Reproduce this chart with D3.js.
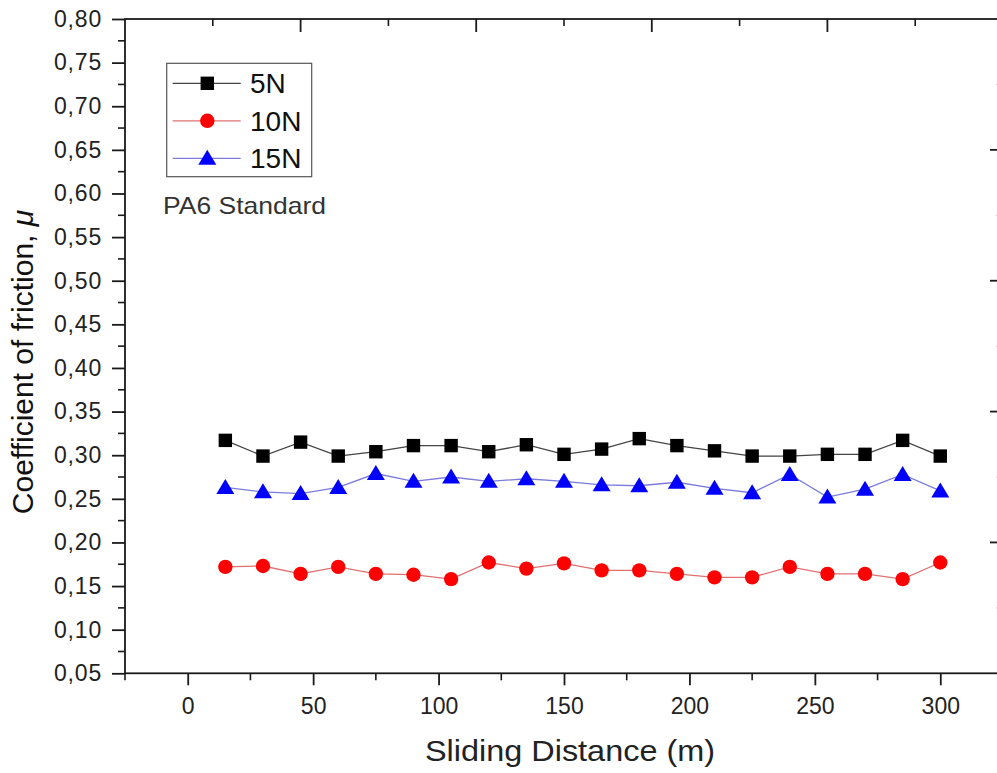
<!DOCTYPE html>
<html><head><meta charset="utf-8">
<script src="https://cdn.jsdelivr.net/npm/d3@7"></script>
<style>html,body{margin:0;padding:0;background:#fff;overflow:hidden}</style>
</head><body>
<svg id="c" width="997" height="773"></svg>
<script>
const distances = [15,30,45,60,75,90,105,120,135,150,165,180,195,210,225,240,255,270,285,300];
const cof5N  = [0.317,0.299,0.315,0.299,0.304,0.311,0.311,0.304,0.312,0.301,0.307,0.319,0.311,0.305,0.299,0.299,0.301,0.301,0.317,0.299];
const cof10N = [0.172,0.173,0.164,0.172,0.164,0.163,0.158,0.177,0.170,0.176,0.168,0.168,0.164,0.160,0.160,0.172,0.164,0.164,0.158,0.177];
const cof15N = [0.263,0.258,0.256,0.263,0.279,0.270,0.275,0.270,0.273,0.270,0.266,0.265,0.269,0.262,0.257,0.278,0.252,0.261,0.278,0.259];
const seriesNames = ["5N","10N","15N"];
const xTicks = [0,50,100,150,200,250,300];
const yTicks = [0.05,0.10,0.15,0.20,0.25,0.30,0.35,0.40,0.45,0.50,0.55,0.60,0.65,0.70,0.75,0.80];

const svg = d3.select("#c");
const L=125, R=1003, T=19, B=673.3;
const x = d3.scaleLinear().domain([-25,325]).range([L,R]);
const y = d3.scaleLinear().domain([0.05,0.80]).range([B,T]);
const xTop = d3.scaleLinear().domain([0,5]).range([L,R]);
const yRight = d3.scaleLinear().domain([0,5]).range([B,T]);
const font = "'Liberation Sans', Arial, sans-serif";
const axisColor = "#1a1a1a";

// frame
svg.append("rect").attr("x",L).attr("y",T).attr("width",R-L).attr("height",B-T)
  .attr("fill","none").attr("stroke",axisColor).attr("stroke-width",1.8);

// bottom axis (outward ticks)
const gB = svg.append("g").attr("transform",`translate(0,${B})`)
  .call(d3.axisBottom(x).tickValues(xTicks).tickSize(12).tickPadding(12).tickFormat(d3.format("d")));
gB.select(".domain").remove();
gB.selectAll(".tick line").attr("stroke",axisColor).attr("stroke-width",1.8);
gB.selectAll(".tick text").attr("font-family",font).attr("font-size",23).attr("fill","#222");
const xMinor = d3.range(-25,326,25).filter(v=>v%50!==0);
svg.append("g").selectAll("line").data(xMinor).join("line")
  .attr("x1",d=>x(d)).attr("x2",d=>x(d)).attr("y1",B).attr("y2",B+7)
  .attr("stroke",axisColor).attr("stroke-width",1.6);

// left axis (outward ticks)
const gL = svg.append("g").attr("transform",`translate(${L},0)`)
  .call(d3.axisLeft(y).tickValues(yTicks).tickSize(13).tickPadding(10).tickFormat(d=>d3.format(".2f")(d).replace(".",",")));
gL.select(".domain").remove();
gL.selectAll(".tick line").attr("stroke",axisColor).attr("stroke-width",1.8);
gL.selectAll(".tick text").attr("font-family",font).attr("font-size",23).attr("fill","#222").attr("letter-spacing",0.8);
const yMinor = yTicks.slice(0,-1).map(v=>v+0.025);
svg.append("g").selectAll("line").data(yMinor).join("line")
  .attr("x1",L-7).attr("x2",L).attr("y1",d=>y(d)).attr("y2",d=>y(d))
  .attr("stroke",axisColor).attr("stroke-width",1.6);

// top axis (inward ticks)
const topMaj=[1,2,3,4], topMin=[0.5,1.5,2.5,3.5,4.5];
svg.append("g").selectAll("line").data(topMaj).join("line")
  .attr("x1",d=>xTop(d)).attr("x2",d=>xTop(d)).attr("y1",T).attr("y2",T+13)
  .attr("stroke",axisColor).attr("stroke-width",1.8);
svg.append("g").selectAll("line").data(topMin).join("line")
  .attr("x1",d=>xTop(d)).attr("x2",d=>xTop(d)).attr("y1",T).attr("y2",T+7)
  .attr("stroke",axisColor).attr("stroke-width",1.6);
// right axis (inward ticks)
svg.append("g").selectAll("line").data([1,2,3,4]).join("line")
  .attr("x1",R-13).attr("x2",R).attr("y1",d=>yRight(d)).attr("y2",d=>yRight(d))
  .attr("stroke",axisColor).attr("stroke-width",1.8);
svg.append("g").selectAll("line").data(topMin).join("line")
  .attr("x1",R-7).attr("x2",R).attr("y1",d=>yRight(d)).attr("y2",d=>yRight(d))
  .attr("stroke","#ccc").attr("stroke-width",1.2);

// series
const series = [
  {name:seriesNames[0], vals:cof5N, line:"#444", fill:"#000", shape:"square"},
  {name:seriesNames[1], vals:cof10N, line:"#e07070", fill:"#ff0000", shape:"circle"},
  {name:seriesNames[2], vals:cof15N, line:"#7b7bdc", fill:"#0000ff", shape:"triangle"}
];
function marker(g, shape, fill){
  if(shape==="square") g.append("rect").attr("x",-6.7).attr("y",-6.7).attr("width",13.4).attr("height",13.4).attr("fill",fill);
  else if(shape==="circle") g.append("circle").attr("r",7.2).attr("fill",fill);
  else g.append("path").attr("d","M0,-8.5L9,6.5L-9,6.5Z").attr("fill",fill);
}
const line = d3.line().x(d=>x(d[0])).y(d=>y(d[1]));
series.forEach(s=>{
  const pts = distances.map((d,i)=>[d,s.vals[i]]);
  svg.append("path").datum(pts).attr("d",line).attr("fill","none").attr("stroke",s.line).attr("stroke-width",1.3);
  svg.append("g").selectAll("g").data(pts).join("g")
    .attr("transform",d=>`translate(${x(d[0])},${y(d[1])})`)
    .each(function(){ marker(d3.select(this), s.shape, s.fill); });
});

// legend
svg.append("rect").attr("x",166.7).attr("y",63.3).attr("width",145).attr("height",113.4)
  .attr("fill","#fff").attr("stroke","#555").attr("stroke-width",1.2);
series.forEach((s,i)=>{
  const yy = 83.3 + i*37.5;
  svg.append("line").attr("x1",172.7).attr("x2",240.7).attr("y1",yy).attr("y2",yy).attr("stroke",s.line).attr("stroke-width",1.3);
  const g = svg.append("g").attr("transform",`translate(207.3,${yy})`);
  marker(g, s.shape, s.fill);
  svg.append("text").attr("x",250).attr("y",yy+10).attr("font-family",font).attr("font-size",28).attr("fill","#111").text(s.name);
});
svg.append("text").attr("x",163).attr("y",214).attr("font-family",font).attr("font-size",24)
  .attr("textLength",163).attr("lengthAdjust","spacingAndGlyphs").attr("fill","#333").text("PA6 Standard");

// axis titles
svg.append("text").attr("x",570).attr("y",761).attr("text-anchor","middle")
  .attr("font-family",font).attr("font-size",30).attr("textLength",290).attr("lengthAdjust","spacingAndGlyphs")
  .attr("fill","#222").text("Sliding Distance (m)");
const yt = svg.append("text").attr("transform","translate(33,362) rotate(-90)").attr("text-anchor","middle")
  .attr("font-family",font).attr("font-size",30).attr("fill","#111");
yt.append("tspan").text("Coefficient of friction, ");
yt.append("tspan").attr("font-style","italic").text("μ");
</script>
</body></html>
